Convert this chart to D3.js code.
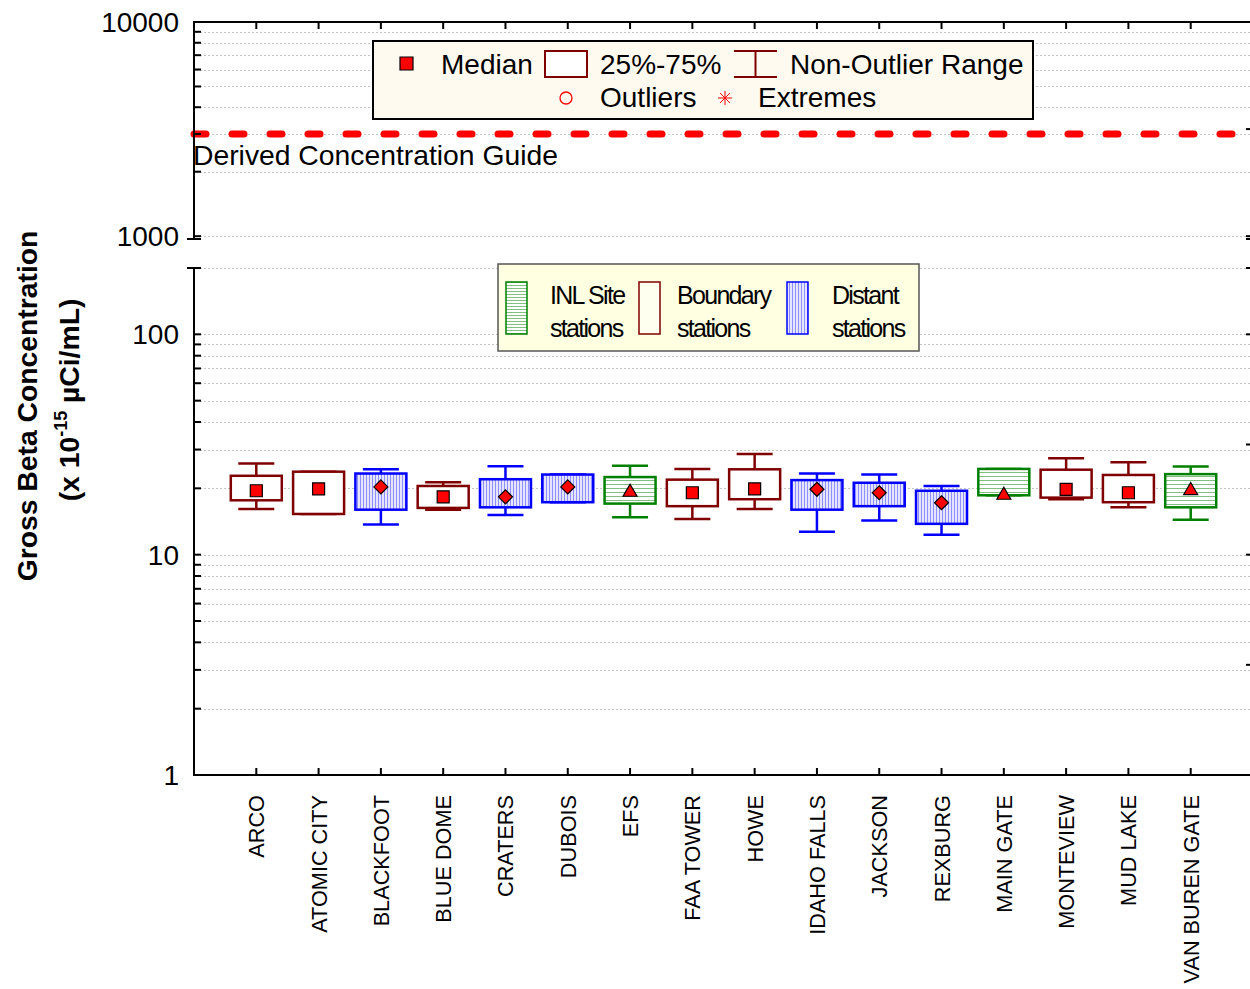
<!DOCTYPE html>
<html>
<head>
<meta charset="utf-8">
<script src="https://cdn.jsdelivr.net/npm/d3@7"></script>
<style>
  html, body { margin: 0; padding: 0; background: #fff; }
  svg { display: block; font-family: "Liberation Sans", Arial, sans-serif; }
</style>
</head>
<body>
<svg id="chart" width="1250" height="989"></svg>
<script>
// Monitoring stations and their group
const stations = ["ARCO", "ATOMIC CITY", "BLACKFOOT", "BLUE DOME", "CRATERS", "DUBOIS", "EFS",
  "FAA TOWER", "HOWE", "IDAHO FALLS", "JACKSON", "REXBURG", "MAIN GATE", "MONTEVIEW",
  "MUD LAKE", "VAN BUREN GATE"];
const stationGroups = ["Boundary", "Boundary", "Distant", "Boundary", "Distant", "Distant", "INL",
  "Boundary", "Boundary", "Distant", "Distant", "Distant", "INL", "Boundary", "Boundary", "INL"];

// Gross beta concentration (x 10^-15 uCi/mL): non-outlier range, quartiles, median
const whiskerLow  = [16.1, 15.3, 13.7, 16.0, 15.15, 17.3, 14.8, 14.5, 16.1, 12.7, 14.3, 12.3, 18.6, 17.85, 16.4, 14.4];
const quartile1   = [17.65, 15.3, 16.0, 16.3, 16.4, 17.3, 17.05, 16.6, 17.85, 16.0, 16.6, 13.8, 18.6, 18.15, 17.3, 16.4];
const medians     = [19.5, 19.9, 20.3, 18.3, 18.3, 20.3, 19.4, 19.1, 19.9, 19.8, 19.1, 17.2, 18.8, 19.8, 19.1, 19.75];
const quartile3   = [22.8, 23.8, 23.35, 20.5, 22.0, 23.1, 22.5, 21.9, 24.4, 21.8, 21.2, 19.5, 24.5, 24.3, 23.0, 23.2];
const whiskerHigh = [25.9, 23.8, 24.4, 21.3, 25.2, 23.1, 25.3, 24.5, 28.6, 23.35, 23.1, 20.5, 24.5, 27.4, 26.3, 25.1];

// Derived Concentration Guide
const dcgValue = 3000;

// Axis ticks
const lowerTickLabels = [1, 10, 100];
const upperTickLabels = [1000, 10000];
const lowerDomain = [1, 200];
const upperDomain = [970, 10000];

const groupStyle = {
  Boundary: { stroke: "#800000", fill: "#ffffff", marker: "square" },
  Distant:  { stroke: "#0000ff", fill: "url(#hatchDistant)", marker: "diamond" },
  INL:      { stroke: "#008000", fill: "url(#hatchInl)", marker: "triangle" }
};

const svg = d3.select("#chart");

// Patterns
const defs = svg.append("defs");
const pD = defs.append("pattern").attr("id", "hatchDistant").attr("patternUnits", "userSpaceOnUse")
  .attr("width", 3).attr("height", 3);
pD.append("rect").attr("width", 3).attr("height", 3).attr("fill", "#e4e4ff");
pD.append("rect").attr("x", 0).attr("width", 1).attr("height", 3).attr("fill", "#8f8fff");
const pI = defs.append("pattern").attr("id", "hatchInl").attr("patternUnits", "userSpaceOnUse")
  .attr("width", 4).attr("height", 4);
pI.append("rect").attr("width", 4).attr("height", 4).attr("fill", "#ffffff");
pI.append("rect").attr("y", 0).attr("width", 4).attr("height", 1).attr("fill", "#7fbf7f");
const pL = defs.append("pattern").attr("id", "hatchInlLegend").attr("patternUnits", "userSpaceOnUse")
  .attr("width", 4).attr("height", 3);
pL.append("rect").attr("width", 4).attr("height", 3).attr("fill", "#ffffff");
pL.append("rect").attr("y", 0).attr("width", 4).attr("height", 1).attr("fill", "#80c080");

// Scales
const left = 194, right = 1253;
const x = d3.scaleLinear().domain([0, stations.length + 1]).range([left, right]);
const yLow = d3.scaleLog().domain(lowerDomain).range([775, 268]);
const yTop = d3.scaleLog().domain(upperDomain).range([239, 22]);

// Gridlines (dotted)
function minorValues(lo, hi) {
  const v = [];
  for (let d = 1; d <= 10000; d *= 10) for (let k = 1; k <= 9; k++) {
    const t = k * d; if (t >= lo && t <= hi) v.push(t);
  }
  return v;
}
const lowGrid = minorValues(lowerDomain[0], lowerDomain[1]).filter(v => v > 1);
const topGrid = minorValues(1000, 9000);
const grid = svg.append("g").attr("stroke", "#c4c4c4").attr("stroke-width", 1).attr("stroke-dasharray", "2,2");
grid.selectAll(".gl").data(lowGrid).join("line")
  .attr("x1", left + 2).attr("x2", right).attr("y1", d => Math.round(yLow(d)) + 0.5).attr("y2", d => Math.round(yLow(d)) + 0.5);
grid.selectAll(".gt").data(topGrid).join("line")
  .attr("x1", left + 2).attr("x2", right).attr("y1", d => Math.round(yTop(d)) + 0.5).attr("y2", d => Math.round(yTop(d)) + 0.5);

// Derived Concentration Guide line
svg.append("line")
  .attr("x1", left).attr("x2", right)
  .attr("y1", yTop(dcgValue)).attr("y2", yTop(dcgValue))
  .attr("stroke", "#ff0000").attr("stroke-width", 7)
  .attr("stroke-dasharray", "12,26").attr("stroke-linecap", "round");
svg.append("text").attr("x", 193).attr("y", 165)
  .attr("font-size", 28.3).attr("fill", "#000").text("Derived Concentration Guide");

// Axes frame
const axis = svg.append("g").attr("stroke", "#000").attr("stroke-width", 2).attr("fill", "none");
axis.append("line").attr("x1", left).attr("x2", left).attr("y1", 21).attr("y2", 240);
axis.append("line").attr("x1", left).attr("x2", left).attr("y1", 267).attr("y2", 776);
axis.append("line").attr("x1", left - 1).attr("x2", right).attr("y1", 22).attr("y2", 22);
axis.append("line").attr("x1", left - 1).attr("x2", right).attr("y1", 775).attr("y2", 775);
// break ends
[yTop.range()[0], yLow.range()[1]].forEach(y => {
  axis.append("line").attr("x1", left - 7).attr("x2", left + 7).attr("y1", y).attr("y2", y);
  axis.append("line").attr("x1", right - 7).attr("x2", right).attr("y1", y).attr("y2", y);
});
// y ticks inside
const lowTicks = minorValues(lowerDomain[0], lowerDomain[1]);
const topTicks = minorValues(1000, 10000);
axis.selectAll(".tl").data(lowTicks).join("line")
  .attr("x1", left).attr("x2", left + 7).attr("y1", d => yLow(d)).attr("y2", d => yLow(d));
axis.selectAll(".tt").data(topTicks).join("line")
  .attr("x1", left).attr("x2", left + 7).attr("y1", d => yTop(d)).attr("y2", d => yTop(d));
// right-side ticks at decades and half decades
const rightLow = [Math.sqrt(10), 10, Math.sqrt(1000), 100];
const rightTop = [1000, Math.sqrt(1e7), 10000];
axis.selectAll(".rl").data(rightLow).join("line")
  .attr("x1", right - 7).attr("x2", right).attr("y1", d => yLow(d)).attr("y2", d => yLow(d));
axis.selectAll(".rt").data(rightTop).join("line")
  .attr("x1", right - 7).attr("x2", right).attr("y1", d => yTop(d)).attr("y2", d => yTop(d));
// x ticks on bottom and top
axis.selectAll(".xb").data(stations).join("line")
  .attr("x1", (d, i) => x(i + 1)).attr("x2", (d, i) => x(i + 1)).attr("y1", 775).attr("y2", 768);
axis.selectAll(".xt").data(stations).join("line")
  .attr("x1", (d, i) => x(i + 1)).attr("x2", (d, i) => x(i + 1)).attr("y1", 22).attr("y2", 29);

// y tick labels
const yl = svg.append("g").attr("font-size", 28).attr("text-anchor", "end").attr("fill", "#000");
yl.selectAll(".ll").data(lowerTickLabels).join("text")
  .attr("x", 179).attr("y", d => yLow(d)).attr("dy", "0.36em").text(d => d);
yl.selectAll(".lt").data(upperTickLabels).join("text")
  .attr("x", 179).attr("y", d => yTop(d)).attr("dy", "0.36em").text(d => d);

// x labels
svg.append("g").attr("font-size", 21.7).attr("text-anchor", "end").attr("fill", "#000")
  .selectAll("text").data(stations).join("text")
  .attr("transform", (d, i) => `translate(${x(i + 1) + 8},795) rotate(-90)`)
  .text(d => d);

// y axis title
svg.append("text").attr("transform", "translate(37,406) rotate(-90)")
  .attr("text-anchor", "middle").attr("font-size", 28.3).attr("font-weight", "bold")
  .text("Gross Beta Concentration");
const t2 = svg.append("text").attr("transform", "translate(79,400) rotate(-90)")
  .attr("text-anchor", "middle").attr("font-size", 28.3).attr("font-weight", "bold");
t2.append("tspan").text("(x 10");
t2.append("tspan").attr("font-size", 18).attr("dy", -12).text("-15");
t2.append("tspan").attr("dy", 12).text(" \u00B5Ci/mL)");

// Box plots
const boxW = 51, capW = 36;
const boxes = svg.append("g");
stations.forEach((s, i) => {
  const st = groupStyle[stationGroups[i]];
  const cx = x(i + 1);
  const g = boxes.append("g").attr("stroke", st.stroke).attr("stroke-width", 2.5);
  // whiskers
  g.append("line").attr("x1", cx).attr("x2", cx).attr("y1", yLow(whiskerHigh[i])).attr("y2", yLow(quartile3[i]));
  g.append("line").attr("x1", cx).attr("x2", cx).attr("y1", yLow(quartile1[i])).attr("y2", yLow(whiskerLow[i]));
  g.append("line").attr("x1", cx - capW / 2).attr("x2", cx + capW / 2).attr("y1", yLow(whiskerHigh[i])).attr("y2", yLow(whiskerHigh[i]));
  g.append("line").attr("x1", cx - capW / 2).attr("x2", cx + capW / 2).attr("y1", yLow(whiskerLow[i])).attr("y2", yLow(whiskerLow[i]));
  // box
  g.append("rect").attr("x", cx - boxW / 2).attr("width", boxW)
    .attr("y", yLow(quartile3[i])).attr("height", yLow(quartile1[i]) - yLow(quartile3[i]))
    .attr("fill", st.fill);
  // median marker
  drawMarker(boxes, st.marker, cx, yLow(medians[i]));
});

function drawMarker(parent, type, cx, cy) {
  const m = parent.append("path").attr("fill", "#ff0000").attr("stroke", "#000").attr("stroke-width", 1.2);
  if (type === "square") {
    m.attr("d", `M${cx - 6},${cy - 6}h12v12h-12z`);
  } else if (type === "diamond") {
    m.attr("d", `M${cx},${cy - 7}L${cx + 7},${cy}L${cx},${cy + 7}L${cx - 7},${cy}z`);
  } else {
    m.attr("d", `M${cx},${cy - 7}L${cx + 7},${cy + 5}L${cx - 7},${cy + 5}z`);
  }
}

// Legend 1: box plot components
const L1 = svg.append("g");
L1.append("rect").attr("x", 373).attr("y", 41).attr("width", 660).attr("height", 78)
  .attr("fill", "#fffaef").attr("stroke", "#000").attr("stroke-width", 2);
L1.append("path").attr("d", "M400,57h13v13h-13z").attr("fill", "#ff0000").attr("stroke", "#000").attr("stroke-width", 1.2);
L1.append("rect").attr("x", 545).attr("y", 51).attr("width", 42).attr("height", 26)
  .attr("fill", "#fff").attr("stroke", "#800000").attr("stroke-width", 2);
const wk = L1.append("g").attr("stroke", "#800000").attr("stroke-width", 2);
wk.append("line").attr("x1", 734).attr("x2", 777).attr("y1", 51).attr("y2", 51);
wk.append("line").attr("x1", 734).attr("x2", 777).attr("y1", 77).attr("y2", 77);
wk.append("line").attr("x1", 755.5).attr("x2", 755.5).attr("y1", 51).attr("y2", 77);
L1.append("circle").attr("cx", 566).attr("cy", 98).attr("r", 6)
  .attr("fill", "none").attr("stroke", "#ff0000").attr("stroke-width", 1.3);
const ast = L1.append("g").attr("stroke", "#ff0000").attr("stroke-width", 1);
[[0, -7, 0, 7], [-7, 0, 7, 0], [-5, -5, 5, 5], [-5, 5, 5, -5]].forEach(p =>
  ast.append("line").attr("x1", 725 + p[0]).attr("y1", 98 + p[1]).attr("x2", 725 + p[2]).attr("y2", 98 + p[3]));
const l1t = L1.append("g").attr("font-size", 28).attr("fill", "#000");
l1t.append("text").attr("x", 441).attr("y", 74).text("Median");
l1t.append("text").attr("x", 600).attr("y", 74).text("25%-75%");
l1t.append("text").attr("x", 790).attr("y", 74).text("Non-Outlier Range");
l1t.append("text").attr("x", 600).attr("y", 107).text("Outliers");
l1t.append("text").attr("x", 758).attr("y", 107).text("Extremes");

// Legend 2: station groups
const L2 = svg.append("g");
L2.append("rect").attr("x", 498).attr("y", 264).attr("width", 421).attr("height", 87)
  .attr("fill", "#ffffe1").attr("stroke", "#555").attr("stroke-width", 1.5);
const legendItems = [
  { key: "INL", fill: "url(#hatchInlLegend)", x: 506, tx: 550, l1: "INL Site" },
  { key: "Boundary", fill: "#fffff0", x: 639, tx: 677, l1: "Boundary" },
  { key: "Distant", fill: "url(#hatchDistant)", x: 787, tx: 832, l1: "Distant" }
];
legendItems.forEach(it => {
  L2.append("rect").attr("x", it.x).attr("y", 282).attr("width", 21).attr("height", 52)
    .attr("fill", it.fill).attr("stroke", groupStyle[it.key].stroke).attr("stroke-width", 1.5);
  const t = L2.append("g").attr("font-size", 25).attr("letter-spacing", -1.7).attr("fill", "#000");
  t.append("text").attr("x", it.tx).attr("y", 304).text(it.l1);
  t.append("text").attr("x", it.tx).attr("y", 337).text("stations");
});
</script>
</body>
</html>
